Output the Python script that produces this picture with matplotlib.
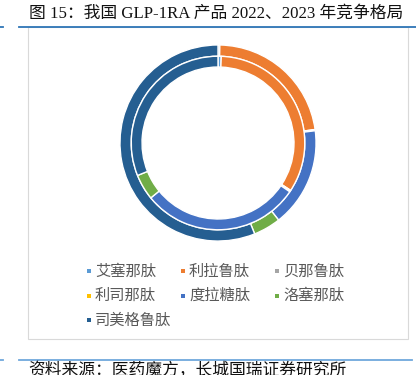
import matplotlib.pyplot as plt
from matplotlib.patches import Rectangle
from matplotlib.lines import Line2D

drugs = ['艾塞那肽', '利拉鲁肽', '贝那鲁肽', '利司那肽', '度拉糖肽', '洛塞那肽', '司美格鲁肽']
colors = ['#5B9BD5', '#ED7D31', '#A5A5A5', '#FFC000', '#4472C4', '#70AD47', '#255E91']
share_2022 = [0.6, 33.6, 0.1, 0.2, 29.6, 4.8, 31.1]
share_2023 = [0.3, 22.5, 0.1, 0.1, 16.4, 4.5, 56.1]

W, H = 416, 375
fig = plt.figure(figsize=(W / 100, H / 100), dpi=100)


def fx(px):
    return px / W


def fy(py):
    return 1 - py / H


# donut axes: centre (218, 143) px, outer radius 98 px
ax = fig.add_axes([fx(218 - 100), fy(143 + 100), 200 / W, 200 / H])
wp = dict(edgecolor='white', linewidth=1.0)
ax.pie(share_2023, colors=colors, radius=1.0, startangle=90, counterclock=False,
       wedgeprops=dict(width=0.115, **wp))
ax.pie(share_2022, colors=colors, radius=0.885, startangle=90, counterclock=False,
       wedgeprops=dict(width=0.11, **wp))
ax.set_xlim(-1.02, 1.02)
ax.set_ylim(-1.02, 1.02)
ax.axis('off')

# chart border
fig.add_artist(Rectangle((fx(28), fy(339)), fx(408) - fx(28), fy(27) - fy(339),
                         transform=fig.transFigure, fill=False,
                         edgecolor='#D9D9D9', linewidth=0.8))

# title and rules
title_font = ['Liberation Serif', 'Noto Sans CJK SC']
fig.text(fx(29), fy(14), '图 15：我国 GLP-1RA 产品 2022、2023 年竞争格局',
         family=title_font, fontsize=12.1, color='#111111', va='center', ha='left')
fig.add_artist(Line2D([fx(19), 1], [fy(27), fy(27)], color='#2E75B6', lw=1.3,
                      transform=fig.transFigure))
fig.add_artist(Line2D([0, fx(3)], [fy(27), fy(27)], color='#2E75B6', lw=1.3,
                      transform=fig.transFigure))
fig.add_artist(Line2D([fx(19), fx(412)], [fy(360), fy(360)], color='#6FA8DC', lw=1.3,
                      transform=fig.transFigure))
fig.add_artist(Line2D([0, fx(3)], [fy(360), fy(360)], color='#6FA8DC', lw=1.3,
                      transform=fig.transFigure))
fig.text(fx(28), fy(363), '资料来源：医药魔方，长城国瑞证券研究所',
         family=title_font, fontsize=12.1, color='#111111', va='top', ha='left')

# legend, 3 columns
for i, (name, c) in enumerate(zip(drugs, colors)):
    row, col = divmod(i, 3)
    x = 89 + 94 * col
    y = 271 + 24.5 * row
    fig.add_artist(Rectangle((fx(x - 2), fy(y + 2)), 4 / W, 4 / H,
                             transform=fig.transFigure, facecolor=c, edgecolor='none'))
    fig.text(fx(x + 6), fy(y), name, family=['Noto Sans CJK SC', 'DejaVu Sans'],
             fontsize=11, color='#595959', va='center', ha='left')

fig.savefig('out.png', dpi=100)
